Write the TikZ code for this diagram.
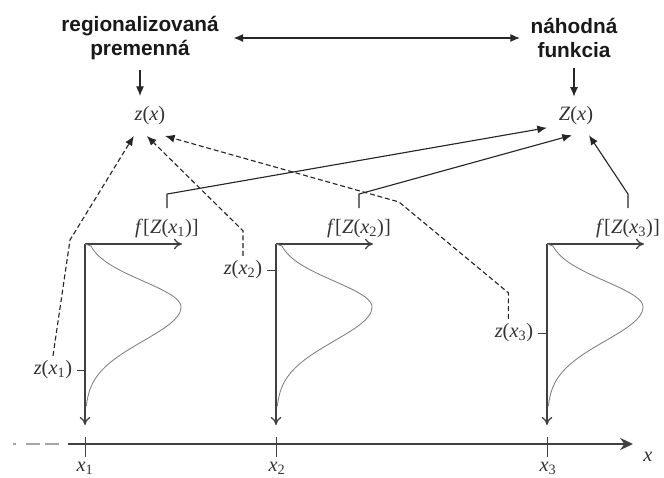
\documentclass[tikz,border=0pt]{standalone}
\usepackage{fontspec}
\setmainfont{Liberation Serif}
\newfontfamily\headfont{Liberation Sans}
\usetikzlibrary{arrows.meta}
\definecolor{axgray}{RGB}{64,64,64}
\definecolor{curvegray}{RGB}{125,125,125}
\newcommand{\zlab}[1]{\textit{z}(\textit{x}\textsubscript{#1})}
\newcommand{\flab}[1]{\textit{f}[\textit{Z}(\textit{x}\textsubscript{#1})]}

\begin{document}
\begin{tikzpicture}[x=0.025cm, y=-0.025cm,
  head/.style={font=\headfont\bfseries\fontsize{14.8}{17}\selectfont, align=center, text=black!90},
  lbl/.style={font=\fontsize{14.5}{16}\selectfont, text=black!80},
  arr/.style={-{Latex[length=2.4mm,width=2mm]}, line width=0.8pt, black!85},
  dbl/.style={{Latex[length=2.4mm,width=2mm]}-{Latex[length=2.4mm,width=2mm]}, line width=0.9pt, black!85},
  dasharr/.style={arr, dash pattern=on 3.5pt off 2pt},
  fax/.style={-{To[length=2mm,width=2.6mm]}, axgray, line width=0.9pt},
  mainax/.style={-{Stealth[length=3.2mm,width=3mm]}, axgray, line width=1.4pt},
  bell/.style={curvegray, line width=0.6pt},
  tickln/.style={axgray, line width=0.6pt}
]
\useasboundingbox (0,0) rectangle (664,478);

\node[head] (regvar) at (140,38) {regionalizovaná\\premenná};
\node[head] (funk) at (574,38) {náhodná\\funkcia};
\node[lbl, minimum width=28pt, minimum height=28pt] (zx) at (150,116) {\textit{z}(\textit{x})};
\node[lbl, minimum width=41pt, minimum height=27pt] (Zx) at (576,116) {\textit{Z}(\textit{x})};

\draw[dbl] ([xshift=7pt]regvar.east) -- ([xshift=-4pt]funk.west);
\draw[arr, shorten <=4pt] (regvar.south) -- (regvar.south |- zx.north);
\draw[arr, shorten <=4pt] (funk.south) -- (funk.south |- Zx.north);

\coordinate (o1) at (85,244);
\coordinate (o2) at (276,244);
\coordinate (o3) at (547,244);
\foreach \o in {o1,o2,o3} {
  \draw[fax] (\o) -- ++(0,181);
  \draw[fax] (\o) -- ++(97,0);
  \draw[bell, shift={(\o)}] (0,0) -- plot[domain=2:63, samples=30] ({96*exp(-((\x-63)/36.6)^2)},\x)
    -- plot[domain=63:162, samples=40] ({96*exp(-((\x-63)/48)^2)},\x);
}

\node[lbl] (f1) at (167,228) {\flab{1}};
\node[lbl] (f2) at (359,228) {\flab{2}};
\node[lbl] (f3) at (628,228) {\flab{3}};
\draw[arr] ([yshift=4pt]f1.north) -- ++(0,-14) -- (Zx.202);
\draw[arr] ([yshift=4pt]f2.north) -- ++(0,-14) -- (Zx.258);
\draw[arr] ([yshift=4pt]f3.north) -- ++(0,-14) -- (Zx.304);

\node[lbl] (zx1) at (53,370) {\zlab{1}};
\node[lbl] (zx2) at (243,270) {\zlab{2}};
\node[lbl] (zx3) at (514,333) {\zlab{3}};
\draw[tickln] (zx1.east) -- (zx1.east -| o1);
\draw[tickln] (zx2.east) -- (zx2.east -| o2);
\draw[tickln] (zx3.east) -- (zx3.east -| o3);
\draw[dasharr] (zx1.north) -- (70,240) -- (zx.231);
\draw[dasharr] (zx2.north) -- ++(0,-25) -- (zx.261);
\draw[dasharr] ([xshift=-4pt]zx3.north) -- ++(0,-26) -- (399,202) -- (zx.307);

\coordinate (xa) at (68,444);
\coordinate (xb) at (633,444);
\draw[mainax] (xa) -- (xb);
\draw[gray!70, line width=1.2pt, dash pattern=on 2pt off 7pt on 10pt off 4pt on 10pt] (13,444) -- (60,444);
\foreach \o in {o1,o2,o3} {
  \draw[tickln] (\o |- xa) ++(0,-7) -- ++(0,20);
}
\node[lbl] (xl1) at (85,468) {\textit{x}\textsubscript{1}};
\node[lbl] (xl2) at (277,468) {\textit{x}\textsubscript{2}};
\node[lbl] (xl3) at (548,468) {\textit{x}\textsubscript{3}};
\node[lbl] (xlab) at (648,457) {\textit{x}};
\end{tikzpicture}
\end{document}
